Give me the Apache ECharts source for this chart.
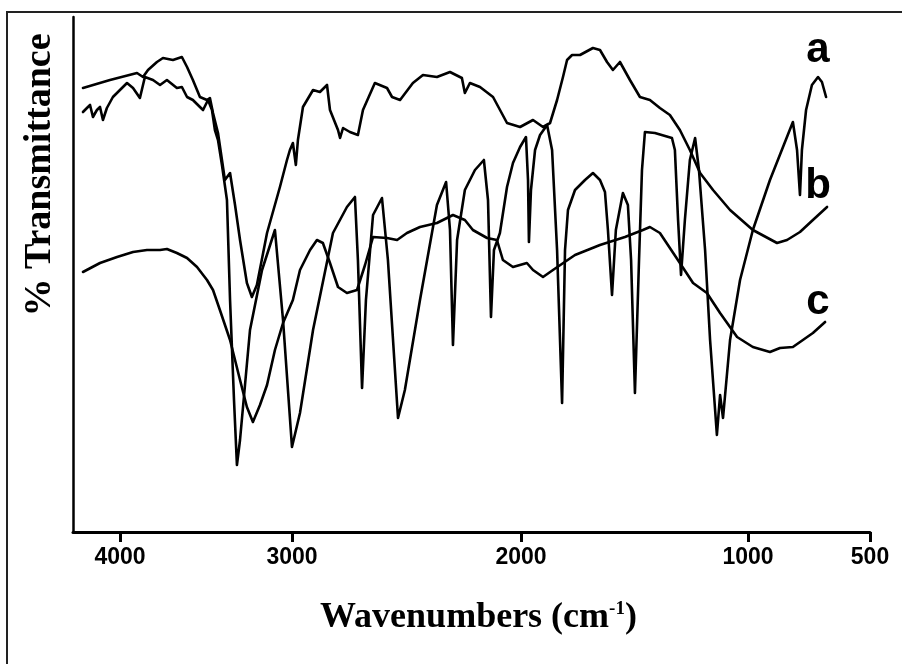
<!DOCTYPE html>
<html>
<head>
<meta charset="utf-8">
<title>FTIR spectra a, b, c</title>
<script src="https://cdn.jsdelivr.net/npm/echarts@6/dist/echarts.min.js"></script>
<style>
  html, body { margin: 0; padding: 0; background: #fff; }
  #chart { width: 902px; height: 664px; }
</style>
</head>
<body>
<div id="chart"></div>
<script>
// Tick labels of the wavenumber axis (cm-1)
const tickWn = [4000, 3000, 2000, 1000, 500];

// The instrument plots 4000-3000 cm-1 compressed; the axis scale is piecewise
// linear through these knots (relative axis units per wavenumber knot).
const scaleKnotWn = [4000, 3000, 2000, 1000, 500];
const scaleKnotUnit = [0, 172, 401, 628, 750];
const wnStart = 4273;

// Spectrum a: [wavenumber, %T]
const specA = [
  [4215, 84.0], [4192, 84.8], [4174, 85.4], [4157, 83.0], [4134, 84.4], [4116, 85.0],
  [4099, 82.4], [4076, 84.8], [4041, 87.0], [4000, 88.4], [3959, 89.8], [3924, 88.8],
  [3884, 86.8], [3855, 91.0], [3808, 90.4], [3767, 89.4], [3727, 90.4], [3669, 88.8],
  [3640, 89.0], [3610, 87.0], [3576, 86.4], [3535, 85.0], [3517, 84.4], [3488, 86.4],
  [3465, 84.4], [3448, 80.4], [3430, 78.4], [3407, 73.4], [3378, 66.4], [3360, 46.4],
  [3337, 26.4], [3320, 13.4], [3302, 18.4], [3273, 29.4], [3244, 40.4], [3174, 52.4],
  [3099, 60.4], [3052, 42.4], [3000, 17.0], [2965, 23.8], [2908, 40.4], [2821, 59.8],
  [2760, 65.0], [2725, 67.0], [2712, 54.4], [2694, 28.8], [2677, 46.4], [2646, 63.4],
  [2607, 66.8], [2581, 54.4], [2537, 22.8], [2507, 28.4], [2441, 46.4], [2367, 65.4],
  [2327, 70.0], [2310, 60.4], [2297, 37.4], [2279, 58.4], [2245, 68.4], [2201, 72.4],
  [2162, 74.4], [2144, 66.4], [2131, 43.0], [2118, 56.4], [2092, 59.8], [2061, 69.0],
  [2035, 73.8], [2004, 77.0], [1978, 79.0], [1969, 70.4], [1965, 58.0], [1956, 68.4],
  [1938, 76.4], [1916, 79.4], [1885, 81.4], [1863, 76.4], [1841, 56.4], [1819, 25.8],
  [1806, 56.4], [1793, 64.4], [1762, 68.4], [1718, 70.4], [1683, 71.8], [1652, 70.4],
  [1630, 68.0], [1617, 60.4], [1599, 47.4], [1582, 60.4], [1551, 67.8], [1529, 65.4],
  [1515, 54.4], [1498, 27.8], [1480, 54.4], [1467, 72.4], [1454, 80.0], [1410, 79.8],
  [1335, 78.8], [1322, 76.4], [1308, 62.4], [1295, 51.4], [1278, 62.4], [1256, 74.4],
  [1233, 78.8], [1216, 72.4], [1189, 56.4], [1167, 38.4], [1137, 19.4], [1123, 27.4],
  [1110, 22.8], [1079, 38.4], [1035, 50.4], [980, 60.4], [910, 70.4], [816, 82.0],
  [799, 76.4], [787, 67.4], [779, 76.4], [762, 84.4], [738, 89.4], [713, 91.0],
  [697, 90.0], [680, 87.0]
];

// Spectrum b: [wavenumber, %T]
const specB = [
  [4215, 88.8], [4058, 90.4], [3901, 91.8], [3866, 91.0], [3837, 92.4], [3785, 94.0],
  [3750, 94.8], [3692, 94.4], [3640, 95.0], [3610, 93.0], [3576, 90.4], [3535, 87.0],
  [3494, 86.4], [3477, 86.8], [3459, 83.8], [3430, 79.8], [3407, 74.4], [3390, 70.4],
  [3360, 71.8], [3331, 65.4], [3302, 58.4], [3262, 49.8], [3233, 47.0], [3204, 49.4],
  [3145, 59.8], [3070, 69.0], [3029, 74.4], [3012, 76.4], [2996, 77.8], [2983, 73.4],
  [2974, 78.4], [2952, 85.0], [2908, 88.4], [2878, 88.0], [2847, 89.4], [2834, 84.4],
  [2799, 80.4], [2790, 78.8], [2777, 80.8], [2747, 80.0], [2712, 79.4], [2690, 84.4],
  [2638, 89.8], [2585, 88.8], [2563, 87.0], [2528, 86.4], [2472, 89.8], [2428, 91.4],
  [2367, 91.0], [2310, 92.0], [2258, 90.8], [2245, 87.8], [2223, 89.8], [2179, 89.0],
  [2122, 87.0], [2061, 81.8], [2004, 81.0], [1947, 82.4], [1903, 81.0], [1872, 81.8],
  [1841, 86.4], [1815, 91.0], [1797, 94.4], [1775, 95.4], [1740, 95.4], [1683, 96.8],
  [1652, 96.4], [1621, 94.0], [1595, 92.4], [1564, 94.0], [1520, 90.4], [1476, 87.0],
  [1432, 86.4], [1388, 84.8], [1344, 83.4], [1300, 80.4], [1256, 76.4], [1211, 71.8],
  [1154, 68.4], [1079, 64.4], [980, 60.4], [881, 57.8], [840, 58.4], [787, 60.0],
  [734, 62.4], [676, 65.0]
];

// Spectrum c: [wavenumber, %T]
const specC = [
  [4215, 52.0], [4116, 53.8], [4017, 55.0], [3924, 56.0], [3843, 56.4], [3767, 56.4],
  [3727, 56.6], [3669, 55.8], [3610, 54.8], [3552, 53.0], [3494, 50.4], [3459, 48.4],
  [3419, 44.4], [3360, 38.4], [3302, 30.4], [3262, 25.0], [3227, 22.0], [3186, 25.4],
  [3145, 29.4], [3099, 36.4], [3052, 41.8], [2996, 46.4], [2965, 52.4], [2921, 56.4],
  [2891, 58.4], [2865, 57.8], [2834, 53.8], [2799, 49.0], [2760, 47.8], [2716, 48.4],
  [2681, 53.4], [2646, 59.0], [2585, 58.8], [2541, 58.4], [2498, 59.8], [2441, 61.0],
  [2367, 61.8], [2297, 63.4], [2245, 62.4], [2210, 60.4], [2148, 58.8], [2105, 58.4],
  [2079, 54.4], [2035, 53.0], [1974, 53.8], [1947, 52.4], [1903, 51.0], [1859, 52.4],
  [1762, 55.4], [1652, 57.4], [1542, 59.0], [1463, 60.4], [1432, 61.0], [1388, 59.8],
  [1300, 53.8], [1242, 49.8], [1181, 47.8], [1123, 43.8], [1048, 39.0], [980, 37.0],
  [910, 36.0], [869, 36.8], [816, 37.0], [734, 39.8], [684, 42.0]
];

// Map a wavenumber onto the piecewise-linear axis scale
function warp(w) {
  const n = scaleKnotWn.length;
  for (let i = 0; i < n - 1; i++) {
    if (w >= scaleKnotWn[i + 1] || i === n - 2) {
      const t = (scaleKnotWn[i] - w) / (scaleKnotWn[i] - scaleKnotWn[i + 1]);
      return scaleKnotUnit[i] + t * (scaleKnotUnit[i + 1] - scaleKnotUnit[i]);
    }
  }
}
function unwarpLabel(v) {
  for (let i = 0; i < tickWn.length; i++) {
    if (Math.abs(warp(tickWn[i]) - v) < 1e-6) return String(tickWn[i]);
  }
  return '';
}
const toAxis = spec => spec.map(([w, t]) => [warp(w), t]);
const tickPos = tickWn.map(warp);

const lineStyle = { color: '#000', width: 2.6, join: 'round', cap: 'round' };
const serif = '"Liberation Serif", "Times New Roman", serif';
const sans = '"Liberation Sans", Arial, sans-serif';

const chart = echarts.init(document.getElementById('chart'), null, { renderer: 'canvas' });
chart.setOption({
  animation: false,
  backgroundColor: '#fff',
  grid: { left: 73, right: 32, top: 17, bottom: 132 },
  xAxis: {
    type: 'value',
    min: warp(wnStart),
    max: warp(500),
    splitLine: { show: false },
    axisLine: { show: true, onZero: false, lineStyle: { color: '#000', width: 3 } },
    axisTick: {
      show: true, customValues: tickPos, length: 10,
      lineStyle: { color: '#000', width: 3 }
    },
    axisLabel: {
      customValues: tickPos,
      showMinLabel: true, showMaxLabel: true,
      formatter: v => unwarpLabel(v),
      margin: 14,
      color: '#000',
      fontFamily: sans,
      fontWeight: 'bold',
      fontSize: 23
    },
    name: 'Wavenumbers (cm{sup|-1})',
    nameLocation: 'middle',
    nameGap: 68,
    nameTextStyle: {
      color: '#000',
      fontFamily: serif,
      fontWeight: 'bold',
      fontSize: 36,
      padding: [0, 0, 0, 14],
      rich: {
        sup: {
          fontFamily: serif,
          fontWeight: 'bold', fontSize: 19, verticalAlign: 'top',
          padding: [0, 0, 15, 0], color: '#000'
        }
      }
    }
  },
  yAxis: {
    type: 'value',
    min: 0,
    max: 103,
    splitLine: { show: false },
    axisTick: { show: false },
    axisLabel: { show: false },
    axisLine: { show: true, onZero: false, lineStyle: { color: '#000', width: 2.5 } }
  },
  series: [
    { name: 'a', type: 'line', data: toAxis(specA), showSymbol: false, lineStyle },
    { name: 'b', type: 'line', data: toAxis(specB), showSymbol: false, lineStyle },
    { name: 'c', type: 'line', data: toAxis(specC), showSymbol: false, lineStyle }
  ],
  graphic: [
    {
      type: 'rect', silent: true, z: 100,
      shape: { x: 7, y: 12, width: 900, height: 660 },
      style: { fill: 'none', stroke: '#222', lineWidth: 2 }
    },
    {
      type: 'text', x: 40, y: 175, rotation: Math.PI / 2, silent: true,
      style: {
        text: '% Transmittance', align: 'center', verticalAlign: 'middle',
        fill: '#000', font: 'bold 38px ' + serif
      }
    },
    {
      type: 'text', x: 818, y: 50, silent: true,
      style: { text: 'a', align: 'center', verticalAlign: 'middle', fill: '#000',
        font: 'bold 42px ' + sans }
    },
    {
      type: 'text', x: 818, y: 186, silent: true,
      style: { text: 'b', align: 'center', verticalAlign: 'middle', fill: '#000',
        font: 'bold 42px ' + sans }
    },
    {
      type: 'text', x: 818, y: 302, silent: true,
      style: { text: 'c', align: 'center', verticalAlign: 'middle', fill: '#000',
        font: 'bold 42px ' + sans }
    }
  ]
});
</script>
</body>
</html>
